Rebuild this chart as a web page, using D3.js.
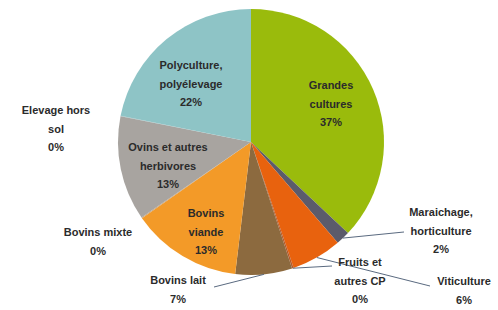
<!DOCTYPE html>
<html>
<head>
<meta charset="utf-8">
<script src="https://cdn.jsdelivr.net/npm/d3@7"></script>
<style>
  html, body { margin: 0; padding: 0; background: #fff; }
  text { font-family: "Liberation Sans", Arial, sans-serif; font-weight: bold; }
</style>
</head>
<body>
<div id="chart"></div>
<script>
// categories, clockwise from 12 o'clock
const categories = [
    ['Grandes', 'cultures'],
    ['Maraichage,', 'horticulture'],
    ['Viticulture'],
    ['Fruits et', 'autres CP'],
    ['Bovins lait'],
    ['Bovins', 'viande'],
    ['Bovins mixte'],
    ['Ovins et autres', 'herbivores'],
    ['Elevage hors', 'sol'],
    ['Polyculture,', 'polyélevage']
];
const values = [37.0, 1.7, 6.1, 0.2, 6.9, 13.4, 0.1, 12.7, 0.05, 21.85];
const colors = ['#9abb0c', '#5b5b6b', '#e8620e', '#b65a2a', '#8c6a3f',
    '#f39a28', '#c9a070', '#a8a4a0', '#9bb4b6', '#8ec4c6'];

// label anchor (centre of first line) and leader line end
const labelPos = [
    {x: 331, y: 85, line: false},
    {x: 441, y: 212, line: true, lx: 404, ly: 232},
    {x: 464, y: 281, line: true, lx: 430, ly: 286},
    {x: 360, y: 262, line: true, lx: 332, ly: 266},
    {x: 178, y: 280, line: true, lx: 214, ly: 287},
    {x: 206, y: 213, line: false},
    {x: 98, y: 232, line: false},
    {x: 168, y: 147, line: false},
    {x: 56, y: 110, line: false},
    {x: 191, y: 65, line: false}
];

const width = 498;
const height = 310;
const cx = 251, cy = 142, radius = 133;
const lineH = 18.5;

const svg = d3.select('#chart').append('svg')
    .attr('width', width)
    .attr('height', height);

const data = categories.map((c, i) => ({name: c, value: values[i], color: colors[i], pos: labelPos[i]}));

const pie = d3.pie().sort(null).value(d => d.value);
const arc = d3.arc().innerRadius(0).outerRadius(radius);
const arcs = pie(data);

const g = svg.append('g').attr('transform', `translate(${cx},${cy})`);

g.selectAll('path')
    .data(arcs)
    .join('path')
    .attr('d', arc)
    .attr('fill', d => d.data.color);

// leader lines
const edge = d3.arc().innerRadius(radius).outerRadius(radius);
svg.selectAll('line.leader')
    .data(arcs.filter(d => d.data.pos.line))
    .join('line')
    .attr('class', 'leader')
    .attr('x1', d => cx + edge.centroid(d)[0])
    .attr('y1', d => cy + edge.centroid(d)[1])
    .attr('x2', d => d.data.pos.lx)
    .attr('y2', d => d.data.pos.ly)
    .attr('stroke', '#5a6a80')
    .attr('stroke-width', 1);

// labels
const labels = svg.selectAll('text.label')
    .data(arcs)
    .join('text')
    .attr('class', 'label')
    .attr('text-anchor', 'middle')
    .attr('font-size', '11px')
    .attr('fill', '#2b2b2b');

labels.each(function (d) {
    const t = d3.select(this);
    const lines = d.data.name.concat([Math.round(d.data.value) + '%']);
    lines.forEach((s, k) => {
        t.append('tspan')
            .attr('x', d.data.pos.x)
            .attr('y', d.data.pos.y + 4 + k * lineH)
            .text(s);
    });
});
</script>
</body>
</html>
